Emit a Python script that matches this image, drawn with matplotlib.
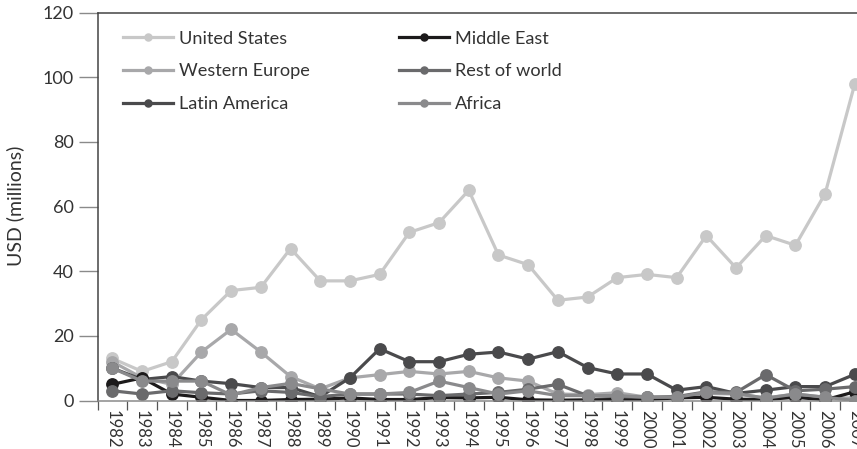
import matplotlib
matplotlib.use("Agg")
import matplotlib.pyplot as plt
import numpy as np

plt.rcParams['font.family'] = ['Lato', 'DejaVu Sans']

years = [str(y) for y in range(1982, 2008)]
united_states = [13, 9, 12, 25, 34, 35, 47, 37, 37, 39, 52, 55, 65, 45, 42, 31, 32, 38, 39, 38, 51, 41, 51, 48, 64, 98]
western_europe = [12, 7, 5, 15, 22, 15, 7.4, 3.6, 7, 8, 9, 8.2, 9, 7, 6, 2, 1.8, 2.4, 1, 1, 2.2, 2, 0.8, 2, 1, 0.7]
latin_america = [10, 6.5, 7.4, 6, 5.2, 4, 4, 1.2, 7, 16, 12, 12, 14.3, 15, 12.8, 15.1, 10.2, 8.2, 8.2, 3.2, 4.3, 2.2, 3.2, 4.3, 4.3, 8.1]
middle_east = [5, 7, 2, 1, 0, 0, 0.3, 0.4, 0.8, 0.3, 0.3, 0.9, 0.8, 1, 0.2, 0.1, 0.2, 0.3, 0.3, 0.8, 1, 0.4, 0.3, 1, 0.2, 2.7]
rest_of_world = [3, 2, 3, 2.4, 2, 3, 2.5, 1.2, 2, 2, 2, 1.5, 2, 2.5, 3.5, 5, 1.5, 1.2, 1, 1.2, 2.7, 2.5, 8, 3, 3.5, 4.3]
africa = [10, 6, 6, 6, 1.7, 4, 5.3, 3.6, 2, 2, 2.5, 6, 4, 2, 3, 1.5, 1.5, 1.5, 1, 1, 2.5, 2.2, 0.7, 2, 1, 0]

series = [
    ("United States", united_states, "#c8c8c8"),
    ("Western Europe", western_europe, "#a8a8aa"),
    ("Latin America", latin_america, "#4a4a4c"),
    ("Middle East", middle_east, "#1c1a1b"),
    ("Rest of world", rest_of_world, "#6a6a6c"),
    ("Africa", africa, "#8a8a8c"),
]

W, H = 857, 449
fig = plt.figure(figsize=(W / 100, H / 100), dpi=100)
ax_left, ax_bottom, ax_top = 97.5, 400.5, 12.5
band = 29.7
ax = fig.add_axes([ax_left / W, (H - ax_bottom) / H,
                   band * len(years) / W, (ax_bottom - ax_top) / H])

x = np.arange(len(years)) + 0.5
for name, vals, col in series:
    ax.plot(x, vals, color=col, lw=2.3, marker='o', ms=8.2, label=name,
            solid_joinstyle='round')

ax.set_xlim(0, len(years))
ax.set_ylim(0, 120)
ax.set_yticks(range(0, 121, 20))
ax.tick_params(axis='y', direction='out', length=13.7, width=1.0, color='#8a8a8a',
               pad=3.5, labelsize=13, labelcolor='#333333')

ax.set_xticks(np.arange(len(years) + 1))
ax.set_xticklabels([])
ax.tick_params(axis='x', which='major', direction='out', length=6.5, width=0.9, color='#555555')
ax.set_xticks(x, minor=True)
ax.set_xticklabels(years, minor=True, rotation=270, ha='center', va='top')
ax.tick_params(axis='x', which='minor', length=0, pad=7, labelsize=12, labelcolor='#333333')

for s in ['left', 'top']:
    ax.spines[s].set_color('#444444')
    ax.spines[s].set_linewidth(1.1)
ax.spines['bottom'].set_color('#8a8a8a')
ax.spines['bottom'].set_linewidth(1.1)
ax.spines['right'].set_visible(False)

fig.text(15 / W, 1 - 206 / H, "USD (millions)", rotation=90, ha='center', va='center',
         fontsize=14, color='#333333')

leg = ax.legend(loc='upper left', bbox_to_anchor=(123 / W, 1 - 30.5 / H),
                bbox_transform=fig.transFigure, ncol=2, frameon=False,
                fontsize=13.1, handlelength=2.75, handletextpad=0.33,
                labelspacing=0.92, columnspacing=4.9, markerscale=0.62,
                borderaxespad=0, borderpad=0)
for t in leg.get_texts():
    t.set_color('#333333')

fig.savefig("out.png", dpi=100)
